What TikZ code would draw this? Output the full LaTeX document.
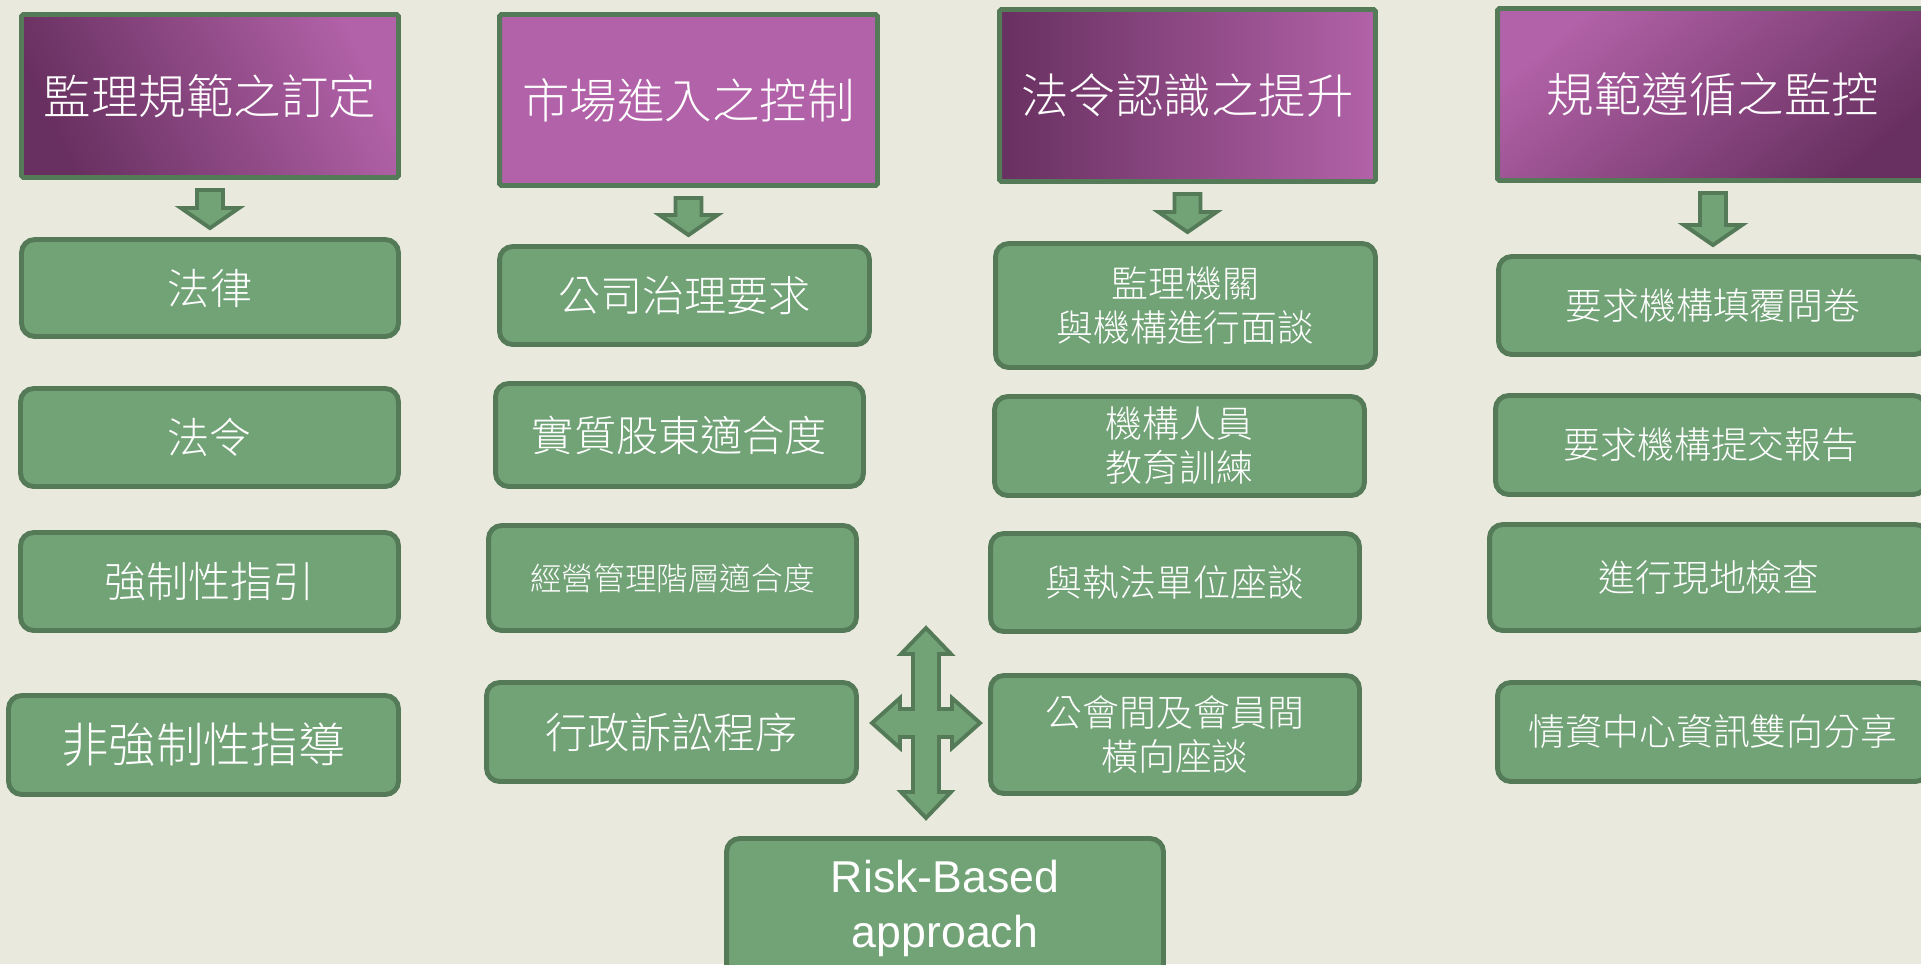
\documentclass[tikz,border=0pt]{standalone}
\usepackage{fontspec}
\setmainfont{Noto Sans CJK TC}[UprightFont={* Light}]
\newfontfamily\latinfont{Liberation Sans}
\usetikzlibrary{calc}

\definecolor{paper}{RGB}{233,233,222}
\definecolor{leaf}{RGB}{114,163,119}
\definecolor{rim}{RGB}{84,122,87}
\definecolor{plum}{RGB}{178,98,168}
\definecolor{plumdark}{RGB}{104,48,96}

% block arrow from the bottom of one box to the top of the next
\newcommand{\flowarrow}[2]{%
\coordinate (t) at ($(#1.south)+(0,10)$);
\coordinate (p) at ($(#1.south |- #2.north)+(0,-9)$);
\draw[blockarrow] ($(t)+(-13,0)$) -- ($(t)+(13,0)$) -- ($(p)+(13,-20)$)
  -- ($(p)+(29,-20)$) -- (p) -- ($(p)+(-29,-20)$) -- ($(p)+(-13,-20)$) -- cycle;}

\begin{document}
\begin{tikzpicture}[x=0.02cm,y=-0.02cm]
\tikzstyle{topic}=[draw=rim,line width=2.8pt,rounded corners=1pt,text=white,inner sep=0pt,align=center,font=\fontsize{27pt}{32pt}\selectfont]
\tikzstyle{entry}=[draw=rim,fill=leaf,line width=2.8pt,rounded corners=7.5pt,text=white,inner sep=0pt,align=center,font=\fontsize{24pt}{28pt}\selectfont]
\tikzstyle{smalltext}=[font=\fontsize{21pt}{25pt}\selectfont]
\tikzstyle{blockarrow}=[draw=rim,fill=leaf,line width=2.2pt]

\useasboundingbox (0,0) rectangle (1921,964);
\fill[paper] (0,0) rectangle (1921,964);
\clip (0,0) rectangle (1921,964);

% headings
\node[topic,top color=plum,bottom color=plumdark,shading angle=-65,minimum width=7.54cm,minimum height=3.26cm] (H1) at (210,96) {監理規範之訂定};
\node[topic,fill=plum,minimum width=7.56cm,minimum height=3.42cm] (H2) at (688.5,100) {市場進入之控制};
\node[topic,left color=plumdark,right color=plum,minimum width=7.52cm,minimum height=3.44cm] (H3) at (1187.5,95.5) {法令認識之提升};
\node[topic,top color=plum,bottom color=plumdark,shading angle=40,minimum width=8.62cm,minimum height=3.44cm] (H4) at (1713,94.5) {規範遵循之監控};

% first column
\node[entry,minimum width=7.54cm,minimum height=1.94cm] (L1) at (210,288) {法律};
\node[entry,minimum width=7.56cm,minimum height=1.96cm] (L2) at (209.5,437.5) {法令};
\node[entry,minimum width=7.56cm,minimum height=1.96cm] (L3) at (209.5,581.5) {強制性指引};
\node[entry,minimum width=7.80cm,minimum height=1.98cm,font=\fontsize{27pt}{32pt}\selectfont] (L4) at (203.5,745) {非強制性指導};

% second column
\node[entry,minimum width=7.40cm,minimum height=1.96cm] (M1) at (684.5,295.5) {公司治理要求};
\node[entry,minimum width=7.36cm,minimum height=2.06cm] (M2) at (679.5,435) {實質股東適合度};
\node[entry,minimum width=7.36cm,minimum height=2.10cm,font=\fontsize{18pt}{22pt}\selectfont] (M3) at (672.5,578) {經營管理階層適合度};
\node[entry,minimum width=7.40cm,minimum height=1.98cm] (M4) at (671.5,732) {行政訴訟程序};

% third column
\node[entry,smalltext,minimum width=7.60cm,minimum height=2.48cm] (N1) at (1185.5,305.5) {監理機關\\與機構進行面談};
\node[entry,smalltext,minimum width=7.40cm,minimum height=1.98cm] (N2) at (1179.5,446) {機構人員\\教育訓練};
\node[entry,smalltext,minimum width=7.38cm,minimum height=1.96cm] (N3) at (1175,582.5) {與執法單位座談};
\node[entry,smalltext,minimum width=7.38cm,minimum height=2.36cm] (N4) at (1175,734.5) {公會間及會員間\\橫向座談};

% fourth column
\node[entry,smalltext,minimum width=8.58cm,minimum height=1.96cm] (Q1) at (1713,305.5) {要求機構填覆問卷};
\node[entry,smalltext,minimum width=8.62cm,minimum height=1.98cm] (Q2) at (1711,445) {要求機構提交報告};
\node[entry,smalltext,minimum width=8.78cm,minimum height=2.12cm] (Q3) at (1709,577.5) {進行現地檢查};
\node[entry,smalltext,minimum width=8.62cm,minimum height=1.98cm] (Q4) at (1713,732) {情資中心資訊雙向分享};

\node[entry,minimum width=8.74cm,minimum height=2.78cm,font=\latinfont\fontsize{25.4pt}{31.3pt}\selectfont] (R) at (945,908) {Risk-Based\\approach};

\flowarrow{H1}{L1}
\flowarrow{H2}{M1}
\flowarrow{H3}{N1}
\flowarrow{H4}{Q1}

% four-way arrow
\coordinate (X) at (926,723);
\begin{scope}[shift={(X)}]
\draw[blockarrow] (0,-95) -- (25,-69) -- (13,-69) -- (13,-14) -- (26,-14) -- (26,-25) -- (54,0)
  -- (26,25) -- (26,14) -- (13,14) -- (13,69) -- (25,69) -- (0,95) -- (-25,69) -- (-13,69)
  -- (-13,14) -- (-26,14) -- (-26,25) -- (-54,0) -- (-26,-25) -- (-26,-14) -- (-13,-14)
  -- (-13,-69) -- (-25,-69) -- cycle;
\end{scope}
\end{tikzpicture}
\end{document}
